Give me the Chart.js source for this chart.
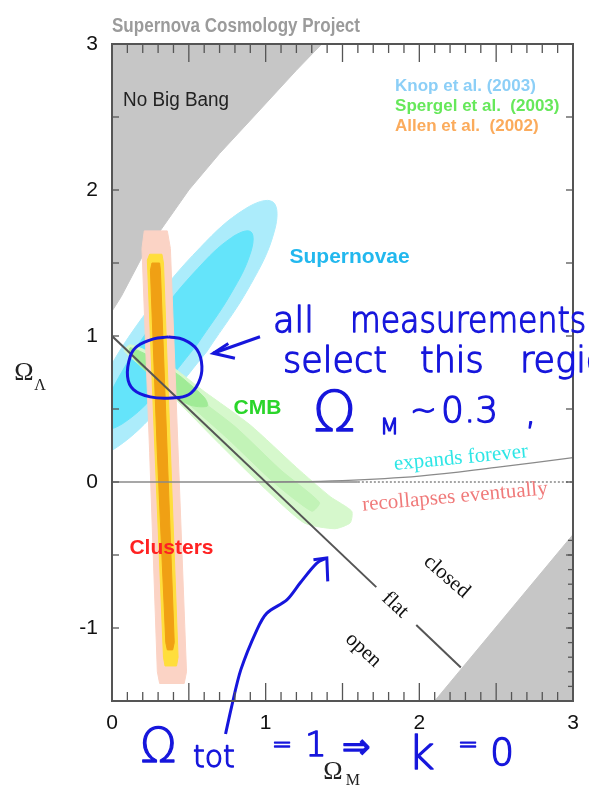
<!DOCTYPE html>
<html lang="en">
<head>
<meta charset="utf-8">
<title>Omega_M vs Omega_Lambda</title>
<script src="https://cdn.jsdelivr.net/npm/chart.js@4.4.1/dist/chart.umd.min.js"></script>
<style>
    body { margin: 0; background: #fff; }
    .box { position: relative; width: 589px; height: 798px; }
</style>
</head>
<body>
<div class="box"><canvas id="omegaChart"></canvas></div>
<script>
// tick labels
const xTicks = [0, 1, 2, 3];
const yTicks = [-1, 0, 1, 2, 3];

// grey excluded regions
const noBigBang = [[0, 1.17], [0.03, 1.22], [0.06, 1.27], [0.1, 1.35], [0.2, 1.55], [0.3, 1.7], [0.5, 2.0], [0.7, 2.25], [0.92, 2.5], [1.2, 2.82], [1.365, 3.0], [0, 3.0], [0, 1.17]];
const tooYoung = [[2.1, -1.5], [3.0, -0.36], [3.0, -1.5], [2.1, -1.5]];

// supernovae contours (Knop et al. 2003)
const snOuter = [[0.618, 0.894], [0.284, 0.475], [-0.011, 0.209], [-0.188, 0.164], [-0.2, 0.355], [-0.043, 0.73], [0.241, 1.188], [0.575, 1.607], [0.87, 1.873], [1.047, 1.918], [1.059, 1.727], [0.902, 1.352], [0.618, 0.894]];
const snInner = [[0.555, 0.943], [0.301, 0.62], [0.082, 0.409], [-0.044, 0.368], [-0.044, 0.508], [0.084, 0.79], [0.304, 1.139], [0.558, 1.462], [0.777, 1.673], [0.903, 1.714], [0.903, 1.575], [0.775, 1.292], [0.555, 0.943]];

// CMB contours (Spergel et al. 2003)
const cmbOuter = [[0.6, 0.62], [0.9, 0.39], [1.2, 0.1], [1.42, -0.1], [1.56, -0.2], [1.55, -0.28], [1.45, -0.32], [1.25, -0.28], [1.0, -0.05], [0.7, 0.26], [0.4, 0.58], [0.18, 0.8], [0.08, 0.9], [0.12, 0.94], [0.3, 0.86], [0.6, 0.62]];
const cmbMid = [[0.5, 0.62], [0.8, 0.38], [1.1, 0.08], [1.35, -0.14], [1.3, -0.2], [1.05, 0.0], [0.75, 0.3], [0.45, 0.58], [0.2, 0.82], [0.15, 0.86], [0.25, 0.82], [0.5, 0.62]];
const cmbInner = [[0.45, 0.72], [0.6, 0.58], [0.62, 0.52], [0.5, 0.53], [0.35, 0.64], [0.2, 0.78], [0.12, 0.88], [0.12, 0.92], [0.3, 0.83], [0.45, 0.72]];

// cluster contours (Allen et al. 2002)
const clOuter = [[0.245, 0.2], [0.195, 1.6], [0.21, 1.72], [0.36, 1.72], [0.38, 1.6], [0.485, -1.3], [0.47, -1.38], [0.31, -1.38], [0.295, -1.3], [0.245, 0.2]];
const clMid = [[0.28, 0.2], [0.23, 1.52], [0.245, 1.56], [0.325, 1.56], [0.335, 1.5], [0.43, -1.2], [0.42, -1.26], [0.345, -1.26], [0.335, -1.2], [0.28, 0.2]];
const clCore = [[0.295, 0.2], [0.25, 1.45], [0.26, 1.5], [0.31, 1.5], [0.315, 1.45], [0.405, -1.1], [0.395, -1.15], [0.36, -1.15], [0.35, -1.1], [0.295, 0.2]];

// boundary lines
const flatA = [[0, 1], [1.72, -0.72]];
const flatB = [[1.98, -0.98], [2.27, -1.27]];
const zeroLine = [[0, 0], [1.6, 0]];
const zeroDots = [[1.6, 0], [3, 0]];
const recollapse = [[1.0, 0], [1.5, 0.01], [2.0, 0.04], [2.5, 0.1], [3.0, 0.167]];

// hand drawn marks
const circle = [[0.368, 0.994], [0.466, 0.975], [0.553, 0.907], [0.585, 0.792], [0.563, 0.679], [0.498, 0.598], [0.39, 0.576], [0.249, 0.583], [0.14, 0.633], [0.101, 0.724], [0.119, 0.861], [0.163, 0.929], [0.27, 0.98], [0.368, 0.994]];
const arrowA = [[0.963, 0.995], [0.659, 0.882]];
const arrowAHead = [[0.8, 0.848], [0.659, 0.882], [0.757, 0.949]];
const arrowB = [[0.739, -1.726], [0.777, -1.545], [0.838, -1.287], [0.943, -1.012], [1.008, -0.898], [1.138, -0.807], [1.224, -0.692], [1.333, -0.555], [1.398, -0.521]];
const arrowBHead = [[1.404, -0.681], [1.398, -0.521], [1.311, -0.533]];

const sans = '"Liberation Sans", Arial, sans-serif';
const serif = '"Liberation Serif", "Times New Roman", serif';
const hand = '"DejaVu Sans", sans-serif';
const ink = '#1616dc';

// printed labels (positions in data units)
const labels = [
    { text: 'Supernova Cosmology Project', x: 0, y: 3.123, font: 'bold 20px ' + sans, color: '#9b9b9b', align: 'left', fit: 248 },
    { text: 'No Big Bang', x: 0.072, y: 2.61, font: '20px ' + sans, color: '#222', align: 'left', fit: 106 },
    { text: 'Knop et al. (2003)', x: 1.842, y: 2.708, font: 'bold 17px ' + sans, color: '#8ccff7', align: 'left' },
    { text: 'Spergel et al.  (2003)', x: 1.842, y: 2.571, font: 'bold 17px ' + sans, color: '#66e85a', align: 'left' },
    { text: 'Allen et al.  (2002)', x: 1.842, y: 2.434, font: 'bold 17px ' + sans, color: '#fbab5c', align: 'left' },
    { text: 'Supernovae', x: 1.546, y: 1.541, font: 'bold 21px ' + sans, color: '#22b8ee' },
    { text: 'CMB', x: 0.947, y: 0.507, font: 'bold 21px ' + sans, color: '#2ad52a' },
    { text: 'Clusters', x: 0.387, y: -0.452, font: 'bold 21px ' + sans, color: '#ff2222' },
    { text: 'expands forever', x: 2.271, y: 0.164, font: '21px ' + serif, color: '#2ee6e6', rot: -5.5 },
    { text: 'recollapses eventually', x: 2.232, y: -0.103, font: '21px ' + serif, color: '#f07a7a', rot: -5 },
    { text: 'closed', x: 2.178, y: -0.649, font: '21px ' + serif, color: '#111', rot: 41 },
    { text: 'flat', x: 1.842, y: -0.842, font: '21px ' + serif, color: '#111', rot: 43 },
    { text: 'open', x: 1.635, y: -1.151, font: '21px ' + serif, color: '#111', rot: 43 },
    { text: 'Ω', x: -0.573, y: 0.747, font: '26px ' + serif, color: '#222' },
    { text: 'Λ', x: -0.469, y: 0.658, font: '16px ' + serif, color: '#222' },
    { text: 'Ω', x: 1.438, y: -1.986, font: '26px ' + serif, color: '#222' },
    { text: 'M', x: 1.568, y: -2.048, font: '16px ' + serif, color: '#222' }
];

// handwriting (left / baseline, data units)
const notes = [
    { text: 'all', x: 1.048, y: 1.027, size: 35 },
    { text: 'measurements', x: 1.549, y: 1.027, size: 35, sx: 0.9 },
    { text: 'select', x: 1.113, y: 0.753, size: 35 },
    { text: 'this', x: 2.004, y: 0.753, size: 35 },
    { text: 'region', x: 2.655, y: 0.753, size: 35 },
    { text: 'Ω', x: 1.308, y: 0.356, size: 56 },
    { text: 'M', x: 1.744, y: 0.329, size: 22 },
    { text: '~', x: 1.939, y: 0.418, size: 32 },
    { text: '0.3', x: 2.141, y: 0.411, size: 36 },
    { text: ',', x: 2.688, y: 0.397, size: 36 },
    { text: 'Ω', x: 0.182, y: -1.918, size: 48 },
    { text: 'tot', x: 0.527, y: -1.952, size: 30 },
    { text: '=', x: 1.041, y: -1.849, size: 24 },
    { text: '1', x: 1.256, y: -1.877, size: 34 },
    { text: '⇒', x: 1.497, y: -1.89, size: 34 },
    { text: 'k', x: 1.926, y: -1.966, size: 46 },
    { text: '=', x: 2.252, y: -1.849, size: 24 },
    { text: '0', x: 2.46, y: -1.938, size: 38 }
];

function toXY(points) {
    return points.map(p => ({ x: p[0], y: p[1] }));
}

const layers = [];
function shape(points, color, tension) {
    layers.push({ data: toXY(points), showLine: true, fill: 'shape', backgroundColor: color, borderColor: color,
        borderWidth: 1, pointRadius: 0, tension: tension || 0, capBezierPoints: false });
}
function stroke(points, color, width, extra) {
    layers.push(Object.assign({ data: toXY(points), showLine: true, fill: false, borderColor: color,
        borderWidth: width, pointRadius: 0, tension: 0 }, extra));
}

// bottom to top
shape(noBigBang, '#c6c6c6');
shape(tooYoung, '#c6c6c6');
shape(snOuter, 'rgb(172,236,251)', 0.4);
shape(snInner, 'rgb(100,228,250)', 0.4);
shape(cmbOuter, 'rgb(214,248,204)', 0.2);
shape(cmbMid, 'rgb(194,243,183)', 0.2);
shape(cmbInner, 'rgb(160,235,150)', 0.3);
shape(clOuter, 'rgb(251,211,197)');
shape(clMid, 'rgb(255,222,60)');
shape(clCore, 'rgb(240,160,20)');
stroke(zeroLine, '#8a8a8a', 1.3);
stroke(zeroDots, '#888', 1.3, { borderDash: [2, 2] });
stroke(recollapse, '#8a8a8a', 1.3, { tension: 0.4 });
stroke(flatA, '#555', 2);
stroke(flatB, '#555', 2);
stroke(circle, ink, 3, { tension: 0.4, clip: false });
stroke(arrowA, ink, 3, { clip: false });
stroke(arrowAHead, ink, 3, { clip: false });
stroke(arrowB, ink, 3, { tension: 0.3, clip: false });
stroke(arrowBHead, ink, 3, { clip: false });
layers.forEach((d, i) => { d.order = layers.length - i; });

function line(ctx, x1, y1, x2, y2) {
    ctx.beginPath();
    ctx.moveTo(x1, y1);
    ctx.lineTo(x2, y2);
    ctx.stroke();
}

const decorations = {
    id: 'decorations',
    afterDatasetsDraw(chart) {
        const { ctx, chartArea: a, scales: { x, y } } = chart;
        ctx.save();
        ctx.strokeStyle = '#555';
        ctx.lineWidth = 1.3;
        // minor ticks every 0.1, long ones every 0.5
        for (let i = 0; i <= 30; i++) {
            const px = x.getPixelForValue(i / 10);
            const len = i % 5 === 0 ? 18 : 9;
            line(ctx, px, a.bottom, px, a.bottom - len);
            line(ctx, px, a.top, px, a.top + len);
        }
        for (let i = -3; i <= 6; i++) {
            const py = y.getPixelForValue(i / 2);
            line(ctx, a.left, py, a.left + 7, py);
            line(ctx, a.right, py, a.right - 7, py);
        }
        for (let i = -15; i <= -4; i++) {
            const py = y.getPixelForValue(i / 10);
            line(ctx, a.right, py, a.right - 5, py);
        }
        ctx.lineWidth = 2;
        ctx.strokeRect(a.left, a.top, a.right - a.left, a.bottom - a.top);

        labels.forEach(l => {
            ctx.save();
            ctx.font = l.font;
            ctx.fillStyle = l.color;
            ctx.textAlign = l.align || 'center';
            ctx.textBaseline = 'middle';
            ctx.translate(x.getPixelForValue(l.x), y.getPixelForValue(l.y));
            if (l.rot) ctx.rotate(l.rot * Math.PI / 180);
            if (l.fit) ctx.scale(l.fit / ctx.measureText(l.text).width, 1);
            ctx.fillText(l.text, 0, 0);
            ctx.restore();
        });
        ctx.restore();
    },
    afterDraw(chart) {
        const { ctx, scales: { x, y } } = chart;
        ctx.save();
        ctx.fillStyle = ink;
        ctx.strokeStyle = ink;
        ctx.lineWidth = 1.3;
        ctx.lineJoin = 'round';
        ctx.textAlign = 'left';
        ctx.textBaseline = 'alphabetic';
        notes.forEach(n => {
            ctx.save();
            ctx.font = '200 ' + n.size + 'px ' + hand;
            ctx.translate(x.getPixelForValue(n.x), y.getPixelForValue(n.y));
            if (n.sx) ctx.scale(n.sx, 1);
            ctx.fillText(n.text, 0, 0);
            ctx.strokeText(n.text, 0, 0);
            ctx.restore();
        });
        ctx.restore();
    }
};

const tickFont = { family: sans, size: 21 };

const chart = new Chart(document.getElementById('omegaChart').getContext('2d'), {
    type: 'scatter',
    data: { datasets: layers },
    options: {
        responsive: true,
        maintainAspectRatio: false,
        animation: false,
        events: [],
        layout: { padding: { top: 44, right: 16, left: 0, bottom: 0 } },
        plugins: { legend: { display: false }, tooltip: { enabled: false } },
        scales: {
            x: {
                type: 'linear', min: 0, max: 3,
                afterFit: s => { s.height = 97; },
                afterBuildTicks: s => { s.ticks = xTicks.map(v => ({ value: v })); },
                grid: { display: false, drawTicks: false },
                border: { display: false },
                ticks: { color: '#111', font: tickFont, padding: 10, maxRotation: 0, callback: v => String(v) }
            },
            y: {
                type: 'linear', min: -1.5, max: 3,
                afterFit: s => { s.width = 112; },
                afterBuildTicks: s => { s.ticks = yTicks.map(v => ({ value: v })); },
                grid: { display: false, drawTicks: false },
                border: { display: false },
                ticks: { color: '#111', font: tickFont, padding: 14, callback: v => String(v) }
            }
        }
    },
    plugins: [decorations]
});
</script>
</body>
</html>
